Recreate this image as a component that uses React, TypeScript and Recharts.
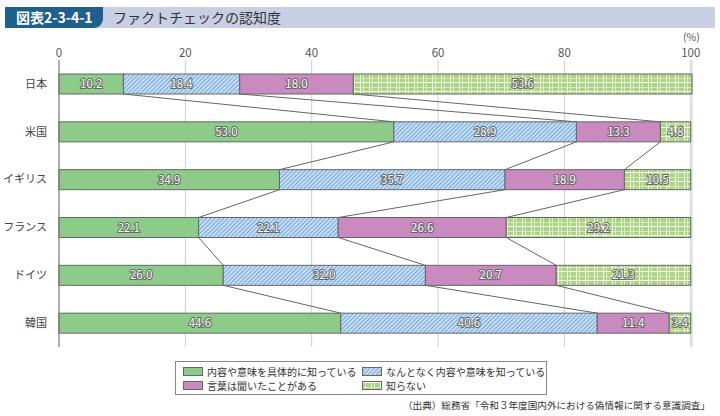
import React from "react"
import { BarChart, Bar, XAxis, YAxis, CartesianGrid, LabelList } from "recharts"

const countries = ["日本", "米国", "イギリス", "フランス", "ドイツ", "韓国"]
const knowDetail = [10.2, 53.0, 34.9, 22.1, 26.0, 44.6]
const knowVague = [18.4, 28.9, 35.7, 22.1, 32.0, 40.6]
const heardWord = [18.0, 13.3, 18.9, 26.6, 20.7, 11.4]
const dontKnow = [53.6, 4.8, 10.5, 29.2, 21.3, 3.4]
const xTicks = [0, 20, 40, 60, 80, 100]

const seriesNames = [
  "内容や意味を具体的に知っている",
  "なんとなく内容や意味を知っている",
  "言葉は聞いたことがある",
  "知らない",
]
const seriesKeys = ["a", "b", "c", "d"]
const seriesFills = ["#8dcb89", "url(#hatchBlue)", "#c98bbf", "url(#plaidGreen)"]
const allValues = [knowDetail, knowVague, heardWord, dontKnow]

const data = countries.map((name, i) => ({
  name,
  a: knowDetail[i],
  b: knowVague[i],
  c: heardWord[i],
  d: dontKnow[i],
}))

const FONT = '"Noto Sans CJK JP", "Noto Sans", sans-serif'
const W = 720
const H = 416
const MARGIN = { top: 40, right: 28, bottom: 69, left: 0 }
const X_AXIS_H = 20
const BAR = 20
const STEP = (H - MARGIN.top - X_AXIS_H - MARGIN.bottom) / countries.length

const cum = (row: number, k: number) => {
  let s = 0
  for (let j = 0; j <= k; j++) s += allValues[j][row]
  return s
}

// each segment draws its rect plus the connector down to the next row's boundary
const makeShape = (k: number) => (props: any) => {
  const { x, y, width, height, fill, index } = props
  const v = allValues[k][index]
  let connector = null
  if (k < 3 && index < countries.length - 1 && v > 0) {
    const pxPer = width / v
    const x1 = x + width
    const y1 = y + height
    const x2 = x1 + (cum(index + 1, k) - cum(index, k)) * pxPer
    const y2 = y1 + STEP - height
    connector = <line x1={x1} y1={y1} x2={x2} y2={y2} stroke="#666" strokeWidth={1} />
  }
  return (
    <g>
      <rect x={x} y={y} width={width} height={height} fill={fill} stroke="#666" strokeWidth={1} />
      {connector}
    </g>
  )
}

const renderLabel = (props: any) => {
  const { x, y, width, height, value } = props
  return (
    <text
      x={x + width / 2}
      y={y + height / 2}
      dy={4}
      textAnchor="middle"
      fontSize={11.5}
      fontFamily={FONT}
      fill="#fff"
      stroke="#666"
      strokeWidth={2}
      paintOrder="stroke"
    >
      {Number(value).toFixed(1)}
    </text>
  )
}

function Swatch({ fill }: { fill: string }) {
  return (
    <svg width={20} height={9} style={{ display: "block", flex: "none" }}>
      <rect x={0.5} y={0.5} width={19} height={8} fill={fill} stroke="#666" strokeWidth={1} />
    </svg>
  )
}

export default function App() {
  return (
    <div style={{ position: "absolute", left: 0, top: 0, width: W, height: H, background: "#fff", fontFamily: FONT }}>
      {/* title bar */}
      <div style={{ position: "absolute", left: 5, top: 7, width: 710, height: 21, background: "#c8cfe2" }} />
      <div
        style={{
          position: "absolute", left: 5, top: 7, width: 98, height: 21, background: "#1f5f8e",
          borderBottomRightRadius: 9, color: "#fff", fontSize: 14, fontWeight: 700, lineHeight: "21px",
          paddingLeft: 11, boxSizing: "border-box",
        }}
      >
        図表2-3-4-1
      </div>
      <div style={{ position: "absolute", left: 113, top: 7, fontSize: 14, lineHeight: "21px", color: "#333" }}>
        ファクトチェックの認知度
      </div>
      <div style={{ position: "absolute", left: 683, top: 30, fontSize: 10.5, lineHeight: "13px", color: "#555" }}>(%)</div>

      <div style={{ position: "absolute", left: 0, top: 0 }}>
        <BarChart width={W} height={H} data={data} layout="vertical" margin={MARGIN} barSize={BAR}>
          <defs>
            <pattern id="hatchBlue" width={3} height={3} patternUnits="userSpaceOnUse" patternTransform="rotate(45)">
              <rect width={3} height={3} fill="#c6ddf4" />
              <line x1={0} y1={0} x2={0} y2={3} stroke="#5b98d4" strokeWidth={1.5} />
            </pattern>
            <pattern id="plaidGreen" width={9} height={9} patternUnits="userSpaceOnUse">
              <rect width={9} height={9} fill="#abd582" />
              <line x1={0.5} y1={0} x2={0.5} y2={9} stroke="#f4faec" strokeWidth={1} />
              <line x1={3.5} y1={0} x2={3.5} y2={9} stroke="#e6f3d6" strokeWidth={0.8} />
              <line x1={0} y1={1.5} x2={9} y2={1.5} stroke="#f4faec" strokeWidth={1} />
              <line x1={0} y1={6.5} x2={9} y2={6.5} stroke="#e6f3d6" strokeWidth={0.7} />
            </pattern>
          </defs>
          <CartesianGrid horizontal={false} stroke="#cfcfcf" />
          <XAxis
            type="number"
            orientation="top"
            domain={[0, 100]}
            ticks={xTicks}
            height={X_AXIS_H}
            axisLine={false}
            tickLine={false}
            tickSize={0}
            tickMargin={3}
            tick={{ fontSize: 11.5, fill: "#555", fontFamily: FONT }}
          />
          <YAxis
            type="category"
            dataKey="name"
            width={59}
            tickLine={false}
            tickMargin={6}
            axisLine={{ stroke: "#777" }}
            tick={{ fontSize: 11, fill: "#444", fontFamily: FONT }}
          />
          {seriesKeys.map((key, k) => (
            <Bar
              key={key}
              dataKey={key}
              stackId="s"
              name={seriesNames[k]}
              fill={seriesFills[k]}
              shape={makeShape(k)}
              isAnimationActive={false}
            >
              <LabelList dataKey={key} content={renderLabel} />
            </Bar>
          ))}
        </BarChart>
      </div>

      {/* legend */}
      <div
        style={{
          position: "absolute", left: 175, top: 361, width: 372, height: 34, border: "1px solid #888",
          boxSizing: "border-box", fontSize: 10, color: "#333",
        }}
      >
        {seriesNames.map((n, k) => (
          <div
            key={n}
            style={{
              position: "absolute",
              left: k % 2 === 0 ? 7 : 186,
              top: k < 2 ? 3 : 17,
              display: "flex",
              alignItems: "center",
              gap: 4,
              lineHeight: "13px",
              whiteSpace: "nowrap",
            }}
          >
            <Swatch fill={seriesFills[k]} />
            <span>{n}</span>
          </div>
        ))}
      </div>

      <div style={{ position: "absolute", right: 10, top: 398, fontSize: 9.6, color: "#333", whiteSpace: "nowrap" }}>
        （出典）総務省「令和３年度国内外における偽情報に関する意識調査」
      </div>
    </div>
  )
}
